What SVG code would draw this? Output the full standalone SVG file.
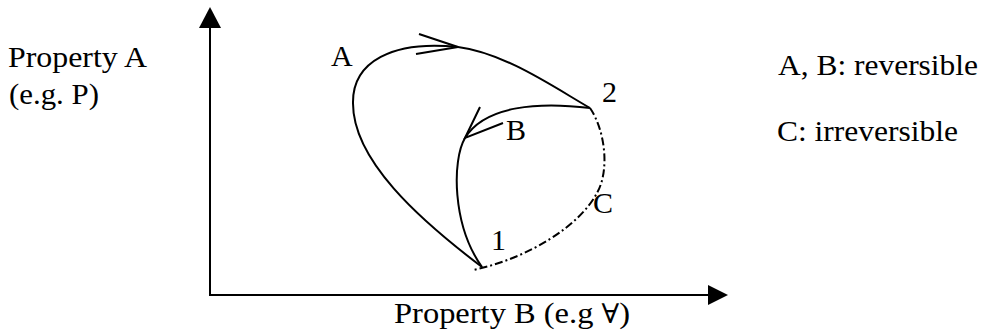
<svg xmlns="http://www.w3.org/2000/svg" width="981" height="336" viewBox="0 0 981 336">
<style>
text{font-family:"Liberation Serif","Times New Roman",serif;font-size:30px;fill:#000}
.sym{font-family:"DejaVu Serif",serif;font-size:27px}
.c{fill:none;stroke:#000;stroke-width:2}
.d{stroke-dasharray:8 3 2 3}
</style>
<rect width="981" height="336" fill="#fff"/>
<g id="axes">
<path class="c" d="M210,28 V295 H708" stroke-width="2.5"/>
<polygon points="210,7 199,28 221,28"/>
<polygon points="708,285 728,295 708,305"/>
</g>
<g id="connectors">
<path id="pathA" class="c" d="M482,267 C420,220 352,160 353,102 C353,62 392,40 458,47 C505,53 555,88 590,108"/>
<path id="arrowA" class="c" d="M419,34 L458,47 L416,54"/>
<path id="pathB" class="c" d="M590,108 C540,102 485,105 465,138 C452,160 452,225 482,267"/>
<path id="arrowB" class="c" d="M480,107 L465,138 L503,123"/>
<path id="pathC" class="c d" d="M590,108 C605,130 610,170 597,193 C580,225 530,258 473,270"/>
</g>
<g id="labels">
<text x="8" y="67" textLength="139" lengthAdjust="spacingAndGlyphs">Property A</text>
<text x="9" y="104" textLength="90" lengthAdjust="spacingAndGlyphs">(e.g. P)</text>
<text x="331" y="66">A</text>
<text x="602" y="102">2</text>
<text x="506" y="140">B</text>
<text x="593" y="213">C</text>
<text x="491" y="250">1</text>
<text x="394" y="323" textLength="236" lengthAdjust="spacingAndGlyphs">Property B (e.g <tspan class="sym">∀</tspan>)</text>
<text x="778" y="75" textLength="200" lengthAdjust="spacingAndGlyphs">A, B: reversible</text>
<text x="777" y="141" textLength="181" lengthAdjust="spacingAndGlyphs">C: irreversible</text>
</g>
</svg>
